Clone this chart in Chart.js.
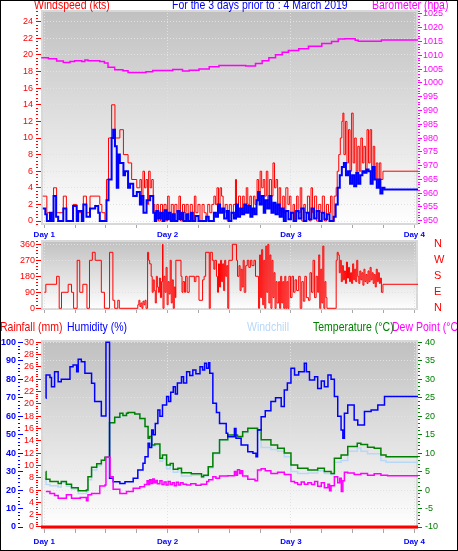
<!DOCTYPE html>
<html>
<head>
<meta charset="utf-8">
<script src="https://cdn.jsdelivr.net/npm/chart.js@4/dist/chart.umd.min.js"></script>
<style>
  html, body { margin: 0; padding: 0; background: #fff; }
  #frame { position: relative; width: 458px; height: 551px; overflow: hidden; background: #fff; }
  canvas { position: absolute; left: 0; }
  .t { position: absolute; font: 10.5px "Liberation Sans", Arial, sans-serif; white-space: nowrap;
       line-height: 1; transform: scaleY(1.25); transform-origin: 0 100%; }
  #edge { position: absolute; left: 0; top: 0; width: 458px; height: 551px; box-sizing: border-box;
          border: 1px solid #000; pointer-events: none; }
</style>
</head>
<body>
<div id="frame">
  <canvas id="windChart" width="458" height="240" style="top:0"></canvas>
  <canvas id="dirChart" width="458" height="86" style="top:232px"></canvas>
  <canvas id="tempChart" width="458" height="233" style="top:318px"></canvas>

  <div class="t" style="left:34px;top:0px;color:#ff0000">Windspeed (kts)</div>
  <div class="t" style="left:172px;top:0px;color:#0000ff">For the 3 days prior to : 4 March 2019</div>
  <div class="t" style="left:372px;top:0px;color:#ff00ff">Barometer (hpa)</div>

  <div class="t" style="left:0px;top:322px;color:#ff0000">Rainfall (mm)</div>
  <div class="t" style="left:67px;top:322px;color:#0000ff">Humidity (%)</div>
  <div class="t" style="left:247px;top:322px;color:#b8d8f8">Windchill</div>
  <div class="t" style="left:313px;top:322px;color:#008000">Temperature (°C)</div>
  <div class="t" style="left:392px;top:322px;color:#ff00ff">Dew Point (°C)</div>
  <div id="edge"></div>
</div>

<script>
// hours since the start of Day 1, and the reading
const dayLabels = ["Day 1", "Day 2", "Day 3", "Day 4"]
const compass = ["N", "E", "S", "W", "N"]

const gustKts = [[-0.3,3],[0.5,1],[1.8,4],[2.4,1],[3.7,3],[4.3,0],[5.6,2],[6.3,1],[7.6,3],[8.2,1],[8.9,3],[10.8,2],[11.2,1],[11.8,0],
  [12.1,5],[12.5,10],[13.1,14],[13.75,10],[14.7,11],[15.4,8],[16.3,7],[17.0,5],[18.0,4],[18.6,5],[18.9,3],[19.2,6],[19.5,4],[19.8,5],
  [20.1,2],[20.3,6],[20.6,4],[20.9,5],[21.2,2],[21.5,1],[21.9,2],[22.2,0],[22.6,2],[23.0,1],[23.3,2],[23.7,0],[24.0,3],[24.3,1],
  [24.7,2],[25.1,0],[25.4,2],[25.8,1],[26.2,3],[26.5,0],[26.9,2],[27.3,1],[27.6,2],[28.0,0],[28.4,2],[28.8,0],[29.2,3],[29.5,1],
  [29.9,2],[30.3,0],[30.7,2],[31.1,1],[31.5,0],[31.8,2],[32.2,1],[32.6,2],[33.0,3],[33.3,2],[33.6,4],[33.9,2],[34.2,4],[34.5,3],
  [34.8,1],[35.2,2],[35.6,0],[36.0,2],[36.4,1],[36.8,2],[37.2,5],[37.4,1],[37.8,3],[38.2,1],[38.6,3],[38.9,2],[39.3,4],[39.6,2],
  [40.0,3],[40.3,1],[40.7,3],[41.0,2],[41.4,5],[41.7,3],[42.0,6],[42.3,4],[42.6,5],[42.9,3],[43.2,6],[43.5,2],[43.8,5],[44.2,3],
  [44.5,7],[44.8,4],[45.1,5],[45.4,2],[45.7,4],[46.0,1],[46.4,3],[46.7,1],[47.0,4],[47.4,2],[47.7,3],[48.0,1],[48.4,2],[48.7,0],
  [49.1,3],[49.4,1],[49.8,4],[50.1,0],[50.5,2],[50.8,1],[51.2,3],[51.6,0],[51.9,4],[52.2,1],[52.6,3],[53.0,0],[53.4,2],[53.8,1],
  [54.1,3],[54.5,0],[54.9,2],[55.3,1],[55.7,3],[56.0,0],[56.4,3],[56.8,4],[57.0,6],[57.3,8],[57.6,10],[57.9,12],[58.1,13],[58.3,8],
  [58.6,12],[58.9,7],[59.2,11],[59.5,6],[59.8,13],[60.1,7],[60.4,10],[60.7,6],[61.0,9],[61.3,6],[61.6,10],[61.9,7],[62.2,9],[62.5,6],
  [62.8,11],[63.1,7],[63.4,11],[63.7,6],[64.0,9],[64.3,5],[64.6,7],[64.9,5],[65.2,7],[65.5,5],[65.9,6],[72.72,6]]

const avgKts = [[-0.3,1.5],[0.2,0.8],[0.5,0],[1.1,1],[1.4,0],[1.8,3],[2.3,0.5],[2.7,0],[3.7,1.5],[4.3,0],[5.6,1.8],[6.3,0],[6.6,1.2],
  [7.3,0],[7.6,2],[8.2,0.5],[8.9,1.5],[9.9,1.8],[10.5,1],[10.8,0],[12.1,2.5],[12.5,5],[13.1,10],[13.4,11],[13.75,9],[14.1,4],[14.4,8],
  [14.7,7],[15.4,5.5],[15.7,6],[16.3,4],[16.7,4.5],[17.3,3],[18.0,3.5],[18.6,2],[18.9,3],[19.3,1],[19.9,2.5],[20.6,3],[21.2,1],[21.5,0],
  [21.8,1.2],[22.2,0.3],[22.6,1],[23.0,0],[23.4,1.3],[23.8,0.2],[24.2,1],[24.6,0],[25.0,0.8],[25.4,0],[25.9,1.2],[26.3,0.2],[26.7,1],
  [27.1,0],[27.6,0.8],[28.0,0],[28.5,1],[28.9,0],[29.4,0.6],[30.0,0],[31.5,0.5],[32.0,0],[33.0,1],[33.4,0.5],[33.8,2],[34.2,1],
  [34.6,1.5],[35.0,0.3],[35.5,1.2],[35.9,0],[36.4,1],[36.9,0.3],[37.3,2],[37.7,0.5],[38.1,1.5],[38.5,0.8],[38.9,2],[39.3,1],[39.7,1.8],
  [40.1,0.5],[40.5,1.5],[40.9,0.8],[41.3,2.5],[41.6,3.5],[41.9,2],[42.3,3],[42.7,1],[43.0,2.5],[43.4,1.5],[43.8,3],[44.2,1],[44.6,2.2],
  [45.0,0.8],[45.4,2],[45.8,0.5],[46.2,1.5],[46.6,0],[47.0,1.2],[47.5,0.2],[48.0,1],[48.5,0],[49.0,1.2],[49.5,0.3],[50.0,1.5],[50.5,0],
  [51.0,1],[51.5,0.2],[52.0,1.5],[52.5,0.3],[53.0,1.2],[53.5,0],[54.0,1],[54.5,0.2],[55.0,0.8],[55.5,0],[56.3,0.5],[56.7,2],[57.1,4],
  [57.5,5.5],[57.9,6.5],[58.3,7],[58.7,5.5],[59.1,6],[59.5,4.5],[59.9,5.5],[60.3,4.2],[60.7,5.8],[61.1,4.5],[61.5,5.5],[61.9,6],
  [62.3,5.8],[62.7,6.2],[63.1,6],[63.5,4.5],[63.9,6.5],[64.3,5],[64.7,4],[65.1,5],[65.4,3.3],[65.8,4],[66.2,3.8],[72.72,3.8]]

const baroHpa = [[-0.6,1009.1],[0.8,1008.8],[2.4,1007.9],[3.7,1007.4],[5.0,1007.8],[5.9,1008.0],[7.3,1007.8],[7.9,1008.3],[8.5,1008.0],
  [10.8,1007.8],[11.7,1007.2],[12.4,1005.7],[13.7,1004.8],[15.3,1004.4],[16.3,1003.8],[19.8,1004.0],[21.1,1004.5],[25.0,1004.9],
  [26.9,1004.3],[28.2,1004.6],[30.1,1005.0],[32.1,1005.9],[34.0,1006.3],[39.2,1006.1],[41.1,1007.0],[42.4,1008.0],[43.7,1009.1],
  [45.0,1010.2],[46.3,1011.1],[47.5,1011.8],[49.5,1012.4],[51.4,1013.3],[54.0,1014.3],[55.9,1015.0],[57.2,1015.9],[58.5,1016.0],
  [60.5,1015.5],[61.1,1015.1],[65.6,1015.6],[72.72,1015.6]]

const windDir = [[0,90],[0.3,135],[2.4,180],[2.9,0],[3.35,90],[4.65,135],[5.3,90],[5.7,0],[6.4,270],[6.9,90],[7.5,135],[8.3,0],[8.8,270],
  [9.35,315],[9.9,270],[11.1,90],[11.7,0],[12.7,315],[13.35,45],[13.7,0],[14.3,45],[14.6,0],[18.2,20],[18.4,45],[18.6,10],[18.8,30],
  [19.0,0],[19.2,40],[19.4,20],[19.6,45],[19.8,0],[20.1,315],[20.3,270],[20.5,250],[20.8,180],[21.0,90],[21.2,160],[21.4,100],[21.6,30],
  [21.8,180],[22.0,120],[22.2,90],[22.4,170],[22.6,60],[22.8,150],[23.0,360],[23.1,0],[23.3,180],[23.5,90],[23.7,230],[23.9,20],
  [24.1,150],[24.3,80],[24.5,270],[24.7,30],[24.9,160],[25.1,0],[25.3,120],[25.5,60],[25.6,270],[26.6,180],[26.8,90],[27.0,150],
  [27.3,90],[27.5,180],[27.8,90],[28.2,180],[29.2,150],[29.5,180],[30.1,45],[30.8,160],[31.1,180],[31.4,315],[32.1,0],[32.3,315],
  [32.7,270],[33.0,220],[33.2,270],[33.5,180],[33.7,90],[33.9,250],[34.1,120],[34.3,270],[34.5,150],[34.7,250],[34.9,100],[35.1,270],
  [35.3,180],[35.5,240],[35.7,0],[35.9,270],[36.6,360],[37.4,270],[37.6,180],[37.9,240],[38.1,100],[38.3,220],[38.5,120],[38.7,270],
  [38.9,90],[39.2,240],[39.5,270],[39.8,230],[40.1,270],[40.4,240],[40.8,270],[41.1,180],[41.7,0],[41.9,300],[42.1,60],[42.3,330],
  [42.5,20],[42.7,270],[42.9,0],[43.1,350],[43.3,90],[43.5,360],[43.7,30],[43.9,300],[44.1,0],[44.3,270],[44.5,60],[44.7,200],
  [44.9,0],[45.1,150],[45.3,30],[45.6,150],[45.8,0],[46.0,180],[46.2,30],[46.4,150],[46.6,0],[46.8,180],[47.0,0],[47.2,150],[47.4,0],
  [47.6,180],[47.9,60],[48.2,180],[48.5,90],[48.8,160],[49.1,100],[49.5,180],[49.8,0],[50.1,150],[50.4,40],[50.7,180],[51.0,60],
  [51.4,45],[51.7,200],[52.0,90],[52.3,270],[52.6,60],[52.9,180],[53.2,90],[53.4,300],[53.6,0],[53.8,220],[54.0,30],[54.2,350],
  [54.4,0],[54.6,150],[54.8,60],[55.0,0],[56.6,0],[56.8,270],[57.0,315],[57.2,300],[57.4,200],[57.6,270],[57.8,150],[58.0,240],
  [58.2,160],[58.4,210],[58.6,140],[58.8,260],[59.0,170],[59.2,230],[59.4,150],[59.6,200],[59.8,140],[60.0,250],[60.2,160],[60.4,220],
  [60.6,150],[60.8,270],[61.0,180],[61.2,140],[61.4,210],[61.6,160],[61.8,200],[62.0,130],[62.2,220],[62.4,150],[62.6,190],[62.8,140],
  [63.0,210],[63.2,150],[63.4,230],[63.6,160],[63.8,200],[64.0,140],[64.2,190],[64.4,120],[64.6,220],[64.8,150],[65.0,200],[65.2,140],
  [65.4,170],[65.6,90],[65.9,135],[72.72,135]]

const rainMm = [[-0.64,0],[72.72,0]]

const humidity = [[0.3,69.7],[0.35,82.3],[1.1,81],[1.4,76],[2.0,84.1],[2.7,78.7],[3.3,80],[5.0,86.8],[5.6,87.7],[6.3,84],[6.6,90.8],
  [7.2,89.5],[7.9,83.2],[9.2,77.8],[9.8,67.9],[11.1,60.1],[12.0,100],[12.7,26.4],[13.4,24.5],[14.7,23.6],[15.7,24.5],[17.3,26.4],
  [18.2,30.9],[19.2,34.5],[19.6,38],[20.2,45.3],[20.5,43],[20.9,52.5],[21.2,50],[21.6,56],[22.1,63.4],[22.5,60],[23.0,66],[23.8,70.6],
  [24.2,68],[24.6,73],[25.1,76],[25.5,72],[25.9,78],[26.7,81.4],[27.1,78],[27.7,84.1],[28.3,82],[28.9,85],[29.5,83],[30.3,86.8],
  [30.8,85],[31.2,88.6],[31.6,86],[32.0,89],[32.2,83.2],[32.8,67],[33.5,62],[34.1,56.1],[35.4,50.7],[35.7,48.9],[37.0,53.4],[37.3,48],
  [38.3,44.4],[39.6,40.8],[40.6,40],[41.2,38],[41.5,52.5],[42.2,59.7],[43.0,63],[44.1,67.9],[45.0,70],[46.1,65.2],[46.7,74.2],
  [47.3,78],[48.0,85.9],[48.7,82.3],[49.5,84],[50.6,88.6],[51.0,84],[51.6,79.6],[52.6,81.4],[53.2,75],[53.9,79],[54.5,76],[55.2,82.3],
  [55.8,80],[56.45,70.6],[57.1,60],[57.75,52.5],[58.1,48],[58.4,61.6],[59.05,66.1],[60.3,58],[61.0,55.2],[62.3,62.5],[63.6,63.4],
  [64.9,66.1],[66.2,70.6],[72.72,70.6]]

const temperature = [[0.3,5.0],[0.35,2.9],[1.1,2.3],[2.7,1.8],[3.3,2.3],[4.3,1.6],[5.3,0.6],[6.6,-0.2],[8.2,0.0],[8.5,3.6],[9.2,6.2],
  [10.2,7.1],[11.1,8.1],[11.8,8.9],[12.7,18.2],[13.7,19.7],[14.7,20.8],[15.3,20.2],[16.0,20.8],[16.3,21.0],[17.6,20.6],[18.6,19.4],
  [19.6,17.2],[20.2,14.0],[20.5,14.5],[20.9,12.2],[21.5,12.5],[22.5,8.6],[23.0,9.5],[23.8,6.8],[24.5,7.2],[25.1,5.6],[26.0,5.9],
  [26.7,4.7],[28.6,4.4],[30.6,3.6],[31.0,4],[31.9,6.3],[32.8,10],[34.1,13.6],[35.7,14.9],[37.6,14.5],[38.6,15.8],[39.6,16.7],
  [41.5,16.3],[42.2,13.6],[44.1,12.2],[45.4,11.3],[46.7,10],[48.0,6.8],[49.3,5.9],[51.3,5.4],[53.2,5.9],[54.5,5.0],[55.8,4.5],
  [56.45,8.6],[57.75,9.5],[59.05,11.8],[60.9,12.7],[61.6,12.3],[62.9,11.6],[64.2,11.3],[65.5,9.5],[66.5,9.0],[72.72,9.0]]

const windchill = [[0.3,3.3],[0.35,1.5],[1.1,1.2],[2.7,0.8],[3.3,2.0],[4.3,1.0],[5.3,0.3],[6.6,-0.9],[8.2,-0.5],[8.5,2.8],[9.2,5.4],
  [10.2,6.6],[11.1,8.1],[11.8,8.9],[12.7,18.2],[13.7,19.5],[14.7,20.8],[15.3,20.2],[16.0,20.8],[16.3,21.0],[17.6,20.6],[18.6,19.2],
  [19.6,17.0],[20.2,13.5],[20.5,14.0],[20.9,11.8],[21.5,12.0],[22.5,7.8],[23.0,8.5],[23.8,5.8],[24.5,6.6],[25.1,4.8],[26.0,5.5],
  [26.7,3.8],[28.6,4.0],[30.6,3.4],[31.0,3.8],[31.9,6.0],[32.8,9.8],[34.1,13.4],[35.7,14.7],[37.6,14.2],[38.6,15.5],[39.6,16.5],
  [41.5,15.5],[42.2,11.5],[44.1,11.0],[45.4,10.5],[46.7,9.0],[48.0,5.0],[49.3,4.5],[51.3,4.6],[53.2,5.2],[54.5,4.5],[55.8,4.2],
  [56.45,7.5],[57.75,8.0],[59.05,10.5],[60.9,11.4],[61.6,10.5],[62.9,9.8],[64.2,9.8],[65.5,8.0],[66.5,7.5],[72.72,7.5]]

const dewPoint = [[0.3,-0.4],[1.1,-0.9],[2.0,-1.5],[2.7,-2.2],[4.3,-1.3],[5.3,-2.2],[7.0,-2.0],[8.2,-2.9],[8.5,-1.3],[9.2,-0.9],
  [10.8,1.1],[11.8,1.4],[12.0,8.9],[12.8,3.6],[13.4,0.2],[14.7,-0.9],[16.0,-0.4],[17.3,0.5],[18.6,0.9],[19.5,1.5],[20.0,2.5],
  [20.3,1.5],[20.5,2.8],[20.8,1.8],[21.1,3.0],[21.4,2.0],[21.7,2.6],[22.0,1.7],[22.5,2.5],[22.9,1.5],[23.3,2.2],[23.7,1.4],[24.1,2.3],
  [24.5,1.5],[24.9,2.0],[25.3,1.2],[25.7,2.1],[26.1,1.4],[26.5,2.0],[27.0,1.6],[27.7,1.4],[28.5,1.7],[29.5,1.3],[30.5,1.6],[31.6,2.3],
  [32.0,2.8],[32.8,3.6],[33.4,3.2],[34.1,3.8],[35.7,3.9],[37.0,5.0],[37.3,4.0],[37.6,5.5],[38.0,4.5],[38.3,5.2],[38.6,3.8],[39.6,2.9],
  [41.0,2.5],[41.5,5.4],[42.2,5.8],[43.0,5.2],[44.1,4.5],[45.4,4.8],[46.7,4.2],[48.0,2.3],[48.7,2.0],[49.3,1.5],[50.0,2.2],[50.6,1.6],
  [51.3,2.0],[52.0,1.5],[52.6,2.3],[53.2,1.0],[53.9,2.0],[54.5,0.6],[55.2,1.6],[55.5,-0.2],[55.8,1.2],[56.45,3.6],[57.1,2.0],
  [57.5,3.2],[57.8,-0.4],[58.1,2.5],[58.4,4.8],[59.05,4.6],[60.3,4.2],[61.6,4.5],[62.9,4.0],[64.2,4.4],[65.5,4.0],[66.8,3.9],[72.72,3.9]]

const X_MIN = -0.64
const X_MAX = 72.72

// grey-to-white plot background with a light bevel, like the original
const plotBg = {
    id: "plotBg",
    beforeDraw(chart) {
        const { ctx, chartArea: a } = chart
        ctx.save()
        ctx.fillStyle = "#d8d8d8"
        ctx.fillRect(a.left, a.top, a.width, a.height)
        const g = ctx.createLinearGradient(0, a.top, 0, a.bottom)
        g.addColorStop(0, "#c0c0c0")
        g.addColorStop(1, "#ffffff")
        ctx.fillStyle = g
        ctx.fillRect(a.left + 2, a.top + 2, a.width - 4, a.height - 4)
        ctx.restore()
    }
}

const pts = arr => arr.map(([x, y]) => ({ x, y }))

const line = (data, color, width, yAxisID) => ({
    data: pts(data),
    borderColor: color,
    borderWidth: width,
    pointRadius: 0,
    stepped: true,
    fill: false,
    yAxisID: yAxisID,
})

// y axis with small dots between the labelled ticks
const sideAxis = (o) => {
    const isMajor = v => Math.abs(v / o.every - Math.round(v / o.every)) < 1e-6
    return {
        position: o.pos,
        min: o.min,
        max: o.max,
        weight: o.weight || 0,
        afterFit: s => { s.width = o.width },
        border: { display: false, dash: [1, 2] },
        grid: {
            drawOnChartArea: !!o.grid,
            color: c => (c.tick && isMajor(c.tick.value)) ? "#e2e2e2" : "rgba(0,0,0,0)",
            tickColor: o.color,
            tickLength: o.tick,
            tickBorderDash: c => (c.tick && isMajor(c.tick.value)) ? [] : [2, 40],
        },
        ticks: {
            stepSize: o.step,
            autoSkip: false,
            includeBounds: false,
            color: o.color,
            padding: o.pad,
            font: { family: "Liberation Sans, Arial, sans-serif", size: 9, weight: o.bold ? "bold" : "normal" },
            callback: v => isMajor(v) ? v : "",
        },
    }
}

const dayAxis = (o) => ({
    type: "linear",
    min: X_MIN,
    max: X_MAX,
    afterFit: s => { s.height = o.height },
    border: { display: false, dash: [1, 2] },
    grid: {
        color: c => (c.tick && c.tick.value % 24 === 0) ? "#e2e2e2" : "rgba(0,0,0,0)",
        tickColor: "#a8a8a8",
        tickLength: o.tickLen,
    },
    ticks: {
        stepSize: 6,
        autoSkip: false,
        includeBounds: false,
        maxRotation: 0,
        color: "#0000ff",
        padding: o.pad || 0,
        font: { family: "Liberation Sans, Arial, sans-serif", size: 8, weight: "bold" },
        callback: v => (o.labels && v % 24 === 0) ? dayLabels[v / 24] : "",
    },
})

const base = (padTop) => ({
    responsive: false,
    animation: false,
    events: [],
    layout: { padding: { top: padTop, left: 0, right: 0, bottom: 0 } },
    plugins: { legend: { display: false }, tooltip: { enabled: false } },
})

new Chart(document.querySelector("#windChart"), {
    type: "line",
    data: {
        datasets: [
            line(avgKts, "#0000ff", 2, "yWind"),
            line(gustKts, "#ff0000", 1, "yWind"),
            line(baroHpa, "#ff00ff", 1.5, "yBaro"),
        ],
    },
    options: {
        ...base(10),
        scales: {
            x: dayAxis({ height: 15, labels: true, pad: 2, tickLen: 3 }),
            yWind: sideAxis({ pos: "left", min: -0.48, max: 25.42, step: 0.4, every: 2, color: "#ff0000", width: 41, tick: 5, pad: 3, grid: true }),
            yBaro: sideAxis({ pos: "right", min: 948.44, max: 1026.45, step: 1, every: 5, color: "#ff00ff", width: 40, tick: 4, pad: 1 }),
        },
    },
    plugins: [plotBg],
})

new Chart(document.querySelector("#dirChart"), {
    type: "line",
    data: { datasets: [line(windDir, "#ff0000", 1, "yDir")] },
    options: {
        ...base(8),
        scales: {
            x: dayAxis({ height: 8, labels: false, tickLen: 3 }),
            yDir: sideAxis({ pos: "left", min: -9.6, max: 384.2, step: 18, every: 90, color: "#ff0000", width: 41, tick: 5, pad: 1, grid: true }),
            yCompass: {
                position: "right",
                min: -9.6,
                max: 384.2,
                afterFit: s => { s.width = 40 },
                border: { display: false },
                // invisible long ticks push the letters out without adding vertical padding
                grid: { drawOnChartArea: false, tickLength: 16, tickColor: "rgba(0,0,0,0)" },
                ticks: {
                    stepSize: 90,
                    autoSkip: false,
                    includeBounds: false,
                    color: "#ff0000",
                    padding: 0,
                    font: { family: "Liberation Sans, Arial, sans-serif", size: 11 },
                    callback: v => compass[Math.round(v / 90)],
                },
            },
        },
    },
    plugins: [plotBg],
})

new Chart(document.querySelector("#tempChart"), {
    type: "line",
    data: {
        datasets: [
            line(rainMm, "#ff0000", 3, "yRain"),
            line(dewPoint, "#ff00ff", 1.5, "yTemp"),
            line(humidity, "#0000ff", 1.5, "yHum"),
            line(temperature, "#008000", 1.5, "yTemp"),
            line(windchill, "#b8d8f8", 1.5, "yTemp"),
        ],
    },
    options: {
        ...base(22),
        scales: {
            x: dayAxis({ height: 22, labels: true, pad: 4, tickLen: 4 }),
            yHum: sideAxis({ pos: "left", min: -1.08, max: 101.25, step: 2, every: 10, color: "#0000ff", width: 23, tick: 5, pad: 2, grid: true, weight: 1, bold: true }),
            yRain: sideAxis({ pos: "left", min: -0.325, max: 30.375, step: 0.4, every: 2, color: "#ff0000", width: 18, tick: 5, pad: 2, weight: 0 }),
            yTemp: sideAxis({ pos: "right", min: -10.54, max: 40.62, step: 1, every: 5, color: "#008000", width: 40, tick: 4, pad: 3 }),
        },
    },
    plugins: [plotBg],
})
</script>
</body>
</html>
